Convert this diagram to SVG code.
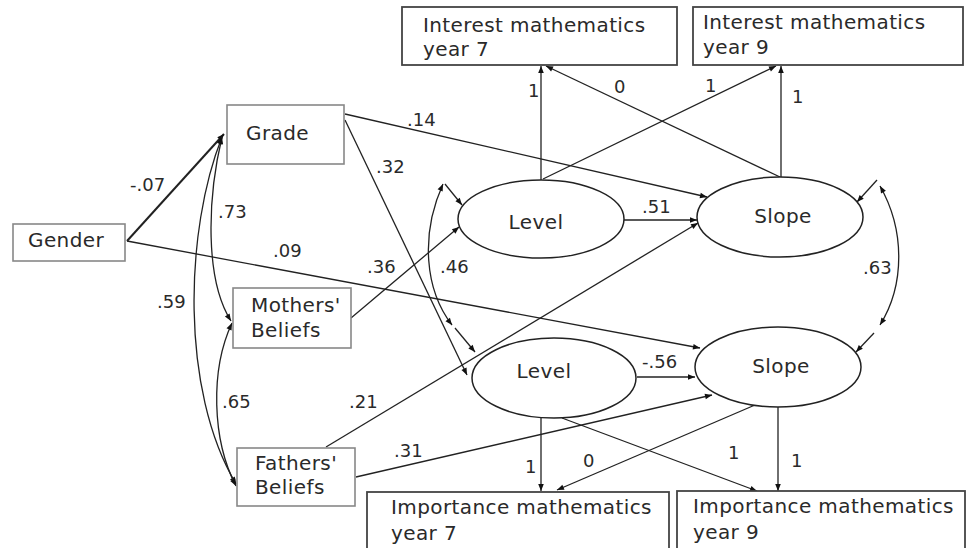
<svg xmlns="http://www.w3.org/2000/svg" width="966" height="548" viewBox="0 0 966 548">
<style>
.bx{fill:#fff;stroke:#888;stroke-width:1.6}
.ob{fill:#fff;stroke:#444;stroke-width:1.8}
.el{fill:#fff;stroke:#222;stroke-width:1.5}
.t{font-family:"DejaVu Sans",Verdana,sans-serif;font-size:20px;fill:#2a2a2a;letter-spacing:0.4px}
.l{font-family:"DejaVu Sans",Verdana,sans-serif;font-size:18px;fill:#2a2a2a}
.c{fill:none;stroke:#222;stroke-width:1.3}
.a{marker-end:url(#ah)}
.d{marker-start:url(#ah);marker-end:url(#ah)}
</style>
<defs>
<marker id="ah" viewBox="0 0 10 10" refX="10" refY="5" markerWidth="9" markerHeight="7" markerUnits="userSpaceOnUse" orient="auto-start-reverse">
<path d="M0,1 L10,5 L0,9 z" fill="#111"/>
</marker>
</defs>
<rect width="966" height="548" fill="#fff"/>

<g id="connectors">
<path class="c a" d="M127,241 L224,134" style="stroke-width:2"/>
<path class="c a" d="M127,241 L700,348"/>
<path class="c a" d="M345,114 L707,197"/>
<path class="c a" d="M345,120 L467,375"/>
<path class="c a" d="M351,318 L459,227"/>
<path class="c a" d="M326,447 L698,223"/>
<path class="c a" d="M356,477 L712,395"/>
<path class="c a" d="M624,220 L697,220"/>
<path class="c a" d="M637,377 L695,377"/>
<path class="c a" d="M541,180 L541,66"/>
<path class="c a" d="M780,177 L546,66"/>
<path class="c a" d="M543,179 L776,66"/>
<path class="c a" d="M781,177 L781,66"/>
<path class="c a" d="M541,418 L541,491"/>
<path class="c a" d="M755,405 L557,490"/>
<path class="c a" d="M562,418 L757,491"/>
<path class="c a" d="M778,407 L778,491"/>
<path class="c d" d="M222,137 C207,200 205,280 231,321"/>
<path class="c d" d="M222,137 C185,230 180,390 236,484"/>
<path class="c d" d="M232,323 C210,370 212,440 236,486"/>
<path class="c d" d="M443,184 C420,235 425,290 452,325"/>
<path class="c a" d="M445,184 L462,205"/>
<path class="c a" d="M455,328 L475,352"/>
<path class="c d" d="M880,186 C905,230 905,285 880,325"/>
<path class="c a" d="M877,180 L857,202"/>
<path class="c a" d="M874,333 L856,352"/>
</g>

<g id="labels">
<text class="l" x="130" y="191">-.07</text>
<text class="l" x="273" y="257">.09</text>
<text class="l" x="407" y="126">.14</text>
<text class="l" x="376" y="173">.32</text>
<text class="l" x="367" y="273">.36</text>
<text class="l" x="349" y="408">.21</text>
<text class="l" x="394" y="457">.31</text>
<text class="l" x="642" y="213">.51</text>
<text class="l" x="642" y="368">-.56</text>
<text class="l" x="528" y="97">1</text>
<text class="l" x="614" y="93">0</text>
<text class="l" x="705" y="92">1</text>
<text class="l" x="792" y="103">1</text>
<text class="l" x="525" y="473">1</text>
<text class="l" x="583" y="467">0</text>
<text class="l" x="728" y="459">1</text>
<text class="l" x="791" y="467">1</text>
<text class="l" x="218" y="218">.73</text>
<text class="l" x="157" y="308">.59</text>
<text class="l" x="222" y="408">.65</text>
<text class="l" x="440" y="273">.46</text>
<text class="l" x="863" y="274">.63</text>
</g>

<g id="interest7"><rect class="ob" x="402" y="7" width="275" height="58"/><text class="t" x="423" y="32">Interest mathematics</text><text class="t" x="423" y="56">year 7</text></g>
<g id="interest9"><rect class="ob" x="693" y="7" width="270" height="58"/><text class="t" x="703" y="29">Interest mathematics</text><text class="t" x="703" y="54">year 9</text></g>
<g id="grade"><rect class="bx" x="227" y="105" width="117" height="59"/><text class="t" x="246" y="140">Grade</text></g>
<g id="gender"><rect class="bx" x="13" y="224" width="112" height="37"/><text class="t" x="28" y="247">Gender</text></g>
<g id="mothers"><rect class="bx" x="233" y="288" width="118" height="60"/><text class="t" x="251" y="312">Mothers'</text><text class="t" x="251" y="337">Beliefs</text></g>
<g id="fathers"><rect class="bx" x="237" y="448" width="118" height="58"/><text class="t" x="255" y="470">Fathers'</text><text class="t" x="255" y="494">Beliefs</text></g>
<g id="importance7"><rect class="ob" x="367" y="492" width="302" height="60"/><text class="t" x="391" y="514">Importance mathematics</text><text class="t" x="391" y="540">year 7</text></g>
<g id="importance9"><rect class="ob" x="677" y="491" width="288" height="60"/><text class="t" x="693" y="513">Importance mathematics</text><text class="t" x="693" y="539">year 9</text></g>
<g id="level1"><ellipse class="el" cx="541" cy="219" rx="83" ry="39"/><text class="t" x="536" y="229" text-anchor="middle">Level</text></g>
<g id="slope1"><ellipse class="el" cx="780" cy="217" rx="83" ry="40"/><text class="t" x="783" y="223" text-anchor="middle">Slope</text></g>
<g id="level2"><ellipse class="el" cx="554" cy="378" rx="82" ry="40"/><text class="t" x="544" y="378" text-anchor="middle">Level</text></g>
<g id="slope2"><ellipse class="el" cx="778" cy="367" rx="83" ry="40"/><text class="t" x="781" y="373" text-anchor="middle">Slope</text></g>
</svg>
